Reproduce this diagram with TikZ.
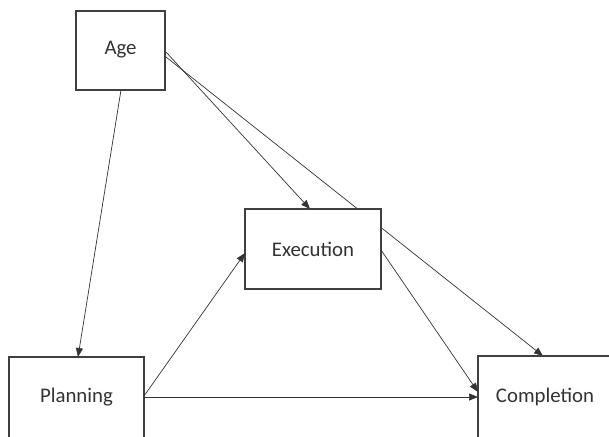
\documentclass[tikz,border=0pt]{standalone}
\usepackage{fontspec}
\setmainfont{Carlito}
\usetikzlibrary{arrows.meta}
\begin{document}
\begin{tikzpicture}[x=1pt,y=-1pt,
  box/.style={draw=black!75,line width=1.3pt,fill=white},
  lbl/.style={text=black!80,font=\fontsize{20.8}{24}\selectfont},
  conn/.style={draw=black!80,line width=0.7pt,-{Triangle[length=9pt,width=7pt]}}]
\useasboundingbox (0,0) rectangle (609,436);
\clip (0,0) rectangle (609,436);
% coordinates
\coordinate (agea) at (166,52);
\coordinate (ageb) at (166,57);
\coordinate (agebot) at (121,90);
\coordinate (exectop) at (310,209);
\coordinate (execleft) at (245,253);
\coordinate (execright) at (381,250);
\coordinate (plantop) at (78,357);
\coordinate (planright) at (144,397);
\coordinate (planright2) at (144,396);
\coordinate (compleft) at (478,397);
\coordinate (compleft2) at (478,392);
\coordinate (comptop) at (543,356);
% connector passing behind the Execution box
\draw[conn] (ageb) -- (comptop);
% boxes
\path[box] (76,11) rectangle (165,90);
\node[lbl] (age) at (120.5,50) {Age};
\path[box] (245,209) rectangle (381,289);
\node[lbl] (exec) at (313,249) {Execution};
\path[box] (9,357) rectangle (144,460);
\node[lbl] (plan) at (76.5,397) {Planning};
\path[box] (478,356) rectangle (640,460);
\node[lbl] (comp) at (545,397) {Completion};
% connectors
\draw[conn] (agebot) -- (plantop);
\draw[conn] (agea) -- (exectop);
\draw[conn] (planright2) -- (execleft);
\draw[conn] (planright) -- (compleft);
\draw[conn] (execright) -- (compleft2);
\end{tikzpicture}
\end{document}
